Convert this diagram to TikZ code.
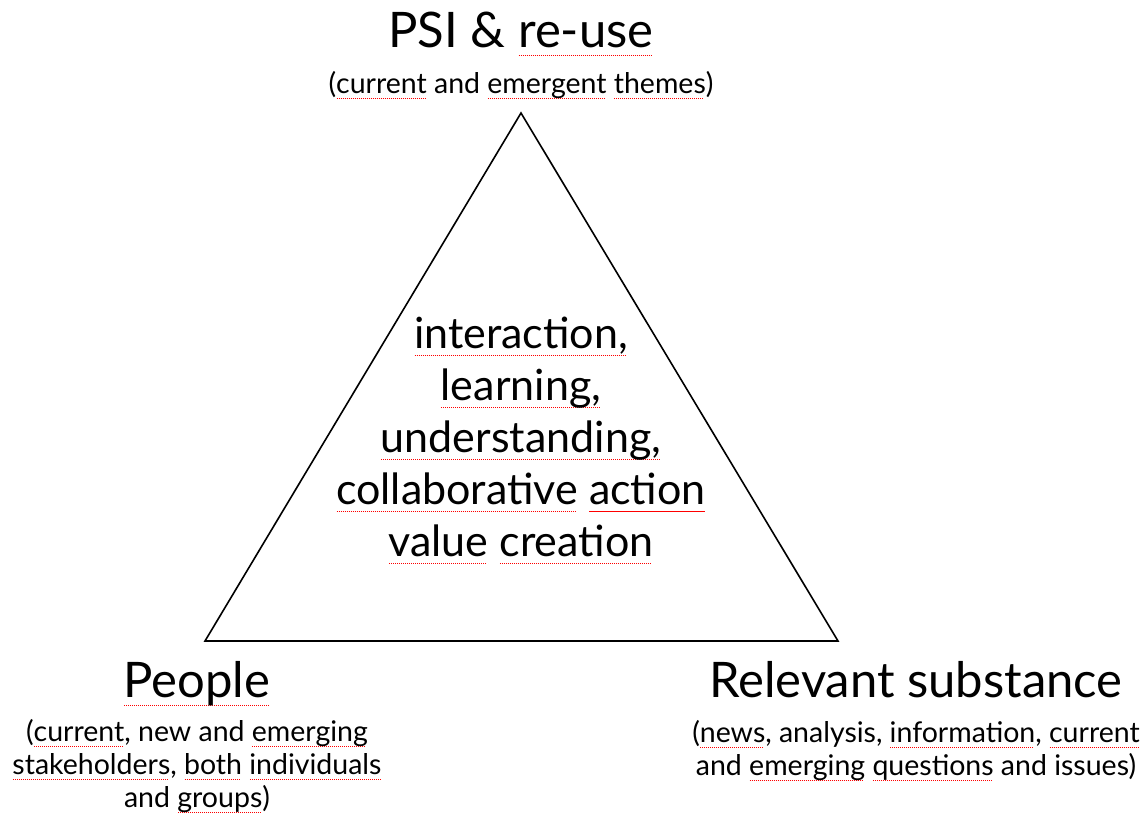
\documentclass[tikz,border=0pt]{standalone}
\usepackage{fontspec}
\setmainfont{Lato}
\usetikzlibrary{positioning}

\newcommand\spell[1]{\setbox0\hbox{#1}\rlap{\raisebox{-0.17em}{\color{red}\hbox to \wd0{\leaders\hbox to 2pt{\hss\rule{1.1pt}{0.8pt}\hss}\hfill}}}\box0\relax}

\begin{document}
\begin{tikzpicture}[x=1pt,y=-1pt]
 	\tikzstyle{head}=[inner sep=0pt, font=\fontsize{49}{52}\selectfont]
 	\tikzstyle{sub}=[inner sep=0pt, align=center, font=\fontsize{28.5}{33}\selectfont]
 	\tikzstyle{core}=[inner sep=0pt, align=center, font=\fontsize{43}{52}\selectfont]
 	\tikzstyle{side}=[line width=1.6pt, line join=miter]
 	\useasboundingbox (0,0) rectangle (1141,817);
 	\coordinate (top) at (521,113);
 	\coordinate (left) at (205,641);
 	\coordinate (right) at (838,641);
 	\draw[side] (top) -- (left) -- (right) -- cycle;
 	\node[head, anchor=base] (psi) at (521,47) {PSI \& \spell{re-use}};
 	\node[sub, below=16pt of psi] (psisub) {(\spell{current} and \spell{emergent} \spell{themes})};
 	\node[core, anchor=north] (core) at (521,317) {\spell{interaction,}\\ \spell{learning,}\\ \spell{understanding,}\\ \spell{collaborative} \spell{action}\\ \spell{value} \spell{creation}};
 	\node[head, anchor=base] (people) at (197,697) {\spell{People}};
 	\node[sub, below=14pt of people] (peoplesub) {(\spell{current}, new and \spell{emerging}\\ \spell{stakeholders}, \spell{both} \spell{individuals}\\ and \spell{groups})};
 	\node[head, anchor=base] (subst) at (916,697) {Relevant substance};
 	\node[sub, below=23pt of subst] (substsub) {(\spell{news}, analysis, \spell{information}, \spell{current}\\ and \spell{emerging} \spell{questions} and issues)};
\end{tikzpicture}
\end{document}
